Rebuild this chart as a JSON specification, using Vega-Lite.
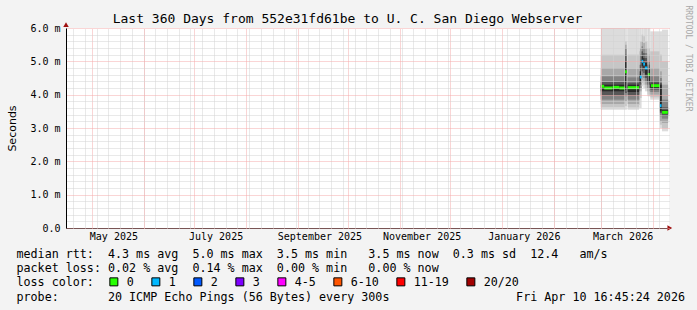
{
  "$schema": "https://vega.github.io/schema/vega-lite/v6.json",
  "width": 603,
  "height": 200,
  "autosize": {"type": "none"},
  "padding": {"left": 66, "top": 28, "right": 28, "bottom": 82},
  "background": "#f3f3f3",
  "config": {
    "view": {"fill": "white", "stroke": null},
    "font": "DejaVu Sans Mono"
  },
  "title": {
    "text": "Last 360 Days from 552e31fd61be to U. C. San Diego Webserver",
    "font": "DejaVu Sans Mono",
    "fontSize": 13,
    "fontWeight": "normal",
    "color": "black",
    "anchor": "middle",
    "frame": "group",
    "dx": -20,
    "dy": 35,
    "offset": 4,
    "baseline": "alphabetic"
  },
  "datasets": {
    "smoke": [
      {"t0": "2026-03-01T00:00:00Z", "t1": "2026-03-15T12:00:00Z", "lvl": 1, "lo": 3.55, "hi": 6.0},
      {"t0": "2026-03-01T00:00:00Z", "t1": "2026-03-15T12:00:00Z", "lvl": 2, "lo": 3.62, "hi": 5.2},
      {"t0": "2026-03-01T00:00:00Z", "t1": "2026-03-15T12:00:00Z", "lvl": 3, "lo": 3.72, "hi": 4.8},
      {"t0": "2026-03-01T00:00:00Z", "t1": "2026-03-15T12:00:00Z", "lvl": 4, "lo": 3.85, "hi": 4.55},
      {"t0": "2026-03-01T00:00:00Z", "t1": "2026-03-15T12:00:00Z", "lvl": 5, "lo": 3.98, "hi": 4.38},
      {"t0": "2026-03-01T00:00:00Z", "t1": "2026-03-15T12:00:00Z", "lvl": 6, "lo": 4.1, "hi": 4.3},
      {"t0": "2026-03-15T12:00:00Z", "t1": "2026-03-16T12:00:00Z", "lvl": 1, "lo": 3.55, "hi": 6.0},
      {"t0": "2026-03-15T12:00:00Z", "t1": "2026-03-16T12:00:00Z", "lvl": 2, "lo": 3.65, "hi": 5.6},
      {"t0": "2026-03-15T12:00:00Z", "t1": "2026-03-16T12:00:00Z", "lvl": 3, "lo": 3.8, "hi": 5.5},
      {"t0": "2026-03-15T12:00:00Z", "t1": "2026-03-16T12:00:00Z", "lvl": 4, "lo": 3.95, "hi": 5.4},
      {"t0": "2026-03-15T12:00:00Z", "t1": "2026-03-16T12:00:00Z", "lvl": 5, "lo": 4.05, "hi": 5.2},
      {"t0": "2026-03-15T12:00:00Z", "t1": "2026-03-16T12:00:00Z", "lvl": 6, "lo": 4.15, "hi": 5.0},
      {"t0": "2026-03-16T12:00:00Z", "t1": "2026-03-17T00:00:00Z", "lvl": 1, "lo": 4.1, "hi": 6.0},
      {"t0": "2026-03-16T12:00:00Z", "t1": "2026-03-17T00:00:00Z", "lvl": 2, "lo": 4.15, "hi": 5.0},
      {"t0": "2026-03-16T12:00:00Z", "t1": "2026-03-17T00:00:00Z", "lvl": 3, "lo": 4.18, "hi": 4.6},
      {"t0": "2026-03-17T00:00:00Z", "t1": "2026-03-23T20:00:00Z", "lvl": 1, "lo": 3.55, "hi": 6.0},
      {"t0": "2026-03-17T00:00:00Z", "t1": "2026-03-23T20:00:00Z", "lvl": 2, "lo": 3.62, "hi": 5.2},
      {"t0": "2026-03-17T00:00:00Z", "t1": "2026-03-23T20:00:00Z", "lvl": 3, "lo": 3.72, "hi": 4.78},
      {"t0": "2026-03-17T00:00:00Z", "t1": "2026-03-23T20:00:00Z", "lvl": 4, "lo": 3.85, "hi": 4.52},
      {"t0": "2026-03-17T00:00:00Z", "t1": "2026-03-23T20:00:00Z", "lvl": 5, "lo": 3.98, "hi": 4.36},
      {"t0": "2026-03-17T00:00:00Z", "t1": "2026-03-23T20:00:00Z", "lvl": 6, "lo": 4.08, "hi": 4.3},
      {"t0": "2026-03-23T20:00:00Z", "t1": "2026-03-24T08:00:00Z", "lvl": 1, "lo": 3.6, "hi": 6.0},
      {"t0": "2026-03-23T20:00:00Z", "t1": "2026-03-24T08:00:00Z", "lvl": 2, "lo": 3.7, "hi": 5.3},
      {"t0": "2026-03-23T20:00:00Z", "t1": "2026-03-24T08:00:00Z", "lvl": 3, "lo": 3.85, "hi": 4.9},
      {"t0": "2026-03-23T20:00:00Z", "t1": "2026-03-24T08:00:00Z", "lvl": 4, "lo": 4.0, "hi": 4.7},
      {"t0": "2026-03-23T20:00:00Z", "t1": "2026-03-24T08:00:00Z", "lvl": 5, "lo": 4.1, "hi": 4.6},
      {"t0": "2026-03-23T20:00:00Z", "t1": "2026-03-24T08:00:00Z", "lvl": 6, "lo": 4.18, "hi": 4.55},
      {"t0": "2026-03-24T08:00:00Z", "t1": "2026-03-25T08:00:00Z", "lvl": 1, "lo": 3.6, "hi": 6.0},
      {"t0": "2026-03-24T08:00:00Z", "t1": "2026-03-25T08:00:00Z", "lvl": 2, "lo": 3.9, "hi": 5.6},
      {"t0": "2026-03-24T08:00:00Z", "t1": "2026-03-25T08:00:00Z", "lvl": 3, "lo": 4.1, "hi": 5.4},
      {"t0": "2026-03-24T08:00:00Z", "t1": "2026-03-25T08:00:00Z", "lvl": 4, "lo": 4.2, "hi": 5.2},
      {"t0": "2026-03-24T08:00:00Z", "t1": "2026-03-25T08:00:00Z", "lvl": 5, "lo": 4.3, "hi": 4.9},
      {"t0": "2026-03-24T08:00:00Z", "t1": "2026-03-25T08:00:00Z", "lvl": 6, "lo": 4.4, "hi": 4.7},
      {"t0": "2026-03-25T08:00:00Z", "t1": "2026-03-26T08:00:00Z", "lvl": 1, "lo": 4.25, "hi": 6.0},
      {"t0": "2026-03-25T08:00:00Z", "t1": "2026-03-26T08:00:00Z", "lvl": 2, "lo": 4.35, "hi": 5.8},
      {"t0": "2026-03-25T08:00:00Z", "t1": "2026-03-26T08:00:00Z", "lvl": 3, "lo": 4.45, "hi": 5.6},
      {"t0": "2026-03-25T08:00:00Z", "t1": "2026-03-26T08:00:00Z", "lvl": 4, "lo": 4.55, "hi": 5.45},
      {"t0": "2026-03-25T08:00:00Z", "t1": "2026-03-26T08:00:00Z", "lvl": 5, "lo": 4.7, "hi": 5.3},
      {"t0": "2026-03-25T08:00:00Z", "t1": "2026-03-26T08:00:00Z", "lvl": 6, "lo": 4.85, "hi": 5.15},
      {"t0": "2026-03-26T08:00:00Z", "t1": "2026-03-27T08:00:00Z", "lvl": 1, "lo": 4.2, "hi": 6.0},
      {"t0": "2026-03-26T08:00:00Z", "t1": "2026-03-27T08:00:00Z", "lvl": 2, "lo": 4.3, "hi": 5.75},
      {"t0": "2026-03-26T08:00:00Z", "t1": "2026-03-27T08:00:00Z", "lvl": 3, "lo": 4.4, "hi": 5.55},
      {"t0": "2026-03-26T08:00:00Z", "t1": "2026-03-27T08:00:00Z", "lvl": 4, "lo": 4.5, "hi": 5.4},
      {"t0": "2026-03-26T08:00:00Z", "t1": "2026-03-27T08:00:00Z", "lvl": 5, "lo": 4.65, "hi": 5.25},
      {"t0": "2026-03-26T08:00:00Z", "t1": "2026-03-27T08:00:00Z", "lvl": 6, "lo": 4.8, "hi": 5.1},
      {"t0": "2026-03-27T08:00:00Z", "t1": "2026-03-28T20:00:00Z", "lvl": 1, "lo": 4.1, "hi": 6.0},
      {"t0": "2026-03-27T08:00:00Z", "t1": "2026-03-28T20:00:00Z", "lvl": 2, "lo": 4.2, "hi": 5.6},
      {"t0": "2026-03-27T08:00:00Z", "t1": "2026-03-28T20:00:00Z", "lvl": 3, "lo": 4.3, "hi": 5.4},
      {"t0": "2026-03-27T08:00:00Z", "t1": "2026-03-28T20:00:00Z", "lvl": 4, "lo": 4.4, "hi": 5.25},
      {"t0": "2026-03-27T08:00:00Z", "t1": "2026-03-28T20:00:00Z", "lvl": 5, "lo": 4.5, "hi": 5.1},
      {"t0": "2026-03-27T08:00:00Z", "t1": "2026-03-28T20:00:00Z", "lvl": 6, "lo": 4.6, "hi": 4.95},
      {"t0": "2026-03-28T20:00:00Z", "t1": "2026-03-30T12:00:00Z", "lvl": 1, "lo": 3.95, "hi": 6.0},
      {"t0": "2026-03-28T20:00:00Z", "t1": "2026-03-30T12:00:00Z", "lvl": 2, "lo": 4.0, "hi": 5.4},
      {"t0": "2026-03-28T20:00:00Z", "t1": "2026-03-30T12:00:00Z", "lvl": 3, "lo": 4.1, "hi": 5.2},
      {"t0": "2026-03-28T20:00:00Z", "t1": "2026-03-30T12:00:00Z", "lvl": 4, "lo": 4.2, "hi": 5.0},
      {"t0": "2026-03-28T20:00:00Z", "t1": "2026-03-30T12:00:00Z", "lvl": 5, "lo": 4.3, "hi": 4.9},
      {"t0": "2026-03-28T20:00:00Z", "t1": "2026-03-30T12:00:00Z", "lvl": 6, "lo": 4.4, "hi": 4.75},
      {"t0": "2026-03-30T12:00:00Z", "t1": "2026-04-05T06:00:00Z", "lvl": 1, "lo": 3.85, "hi": 5.9},
      {"t0": "2026-03-30T12:00:00Z", "t1": "2026-04-05T06:00:00Z", "lvl": 2, "lo": 3.92, "hi": 5.3},
      {"t0": "2026-03-30T12:00:00Z", "t1": "2026-04-05T06:00:00Z", "lvl": 3, "lo": 4.0, "hi": 4.8},
      {"t0": "2026-03-30T12:00:00Z", "t1": "2026-04-05T06:00:00Z", "lvl": 4, "lo": 4.08, "hi": 4.55},
      {"t0": "2026-03-30T12:00:00Z", "t1": "2026-04-05T06:00:00Z", "lvl": 5, "lo": 4.15, "hi": 4.4},
      {"t0": "2026-03-30T12:00:00Z", "t1": "2026-04-05T06:00:00Z", "lvl": 6, "lo": 4.2, "hi": 4.33},
      {"t0": "2026-04-05T06:00:00Z", "t1": "2026-04-06T12:00:00Z", "lvl": 1, "lo": 3.0, "hi": 5.9},
      {"t0": "2026-04-05T06:00:00Z", "t1": "2026-04-06T12:00:00Z", "lvl": 2, "lo": 3.1, "hi": 5.2},
      {"t0": "2026-04-05T06:00:00Z", "t1": "2026-04-06T12:00:00Z", "lvl": 3, "lo": 3.2, "hi": 4.7},
      {"t0": "2026-04-05T06:00:00Z", "t1": "2026-04-06T12:00:00Z", "lvl": 4, "lo": 3.35, "hi": 4.5},
      {"t0": "2026-04-05T06:00:00Z", "t1": "2026-04-06T12:00:00Z", "lvl": 5, "lo": 3.45, "hi": 4.35},
      {"t0": "2026-04-05T06:00:00Z", "t1": "2026-04-06T12:00:00Z", "lvl": 6, "lo": 3.5, "hi": 4.3},
      {"t0": "2026-04-06T12:00:00Z", "t1": "2026-04-10T04:00:00Z", "lvl": 1, "lo": 2.9, "hi": 5.95},
      {"t0": "2026-04-06T12:00:00Z", "t1": "2026-04-10T04:00:00Z", "lvl": 2, "lo": 3.0, "hi": 5.0},
      {"t0": "2026-04-06T12:00:00Z", "t1": "2026-04-10T04:00:00Z", "lvl": 3, "lo": 3.15, "hi": 4.3},
      {"t0": "2026-04-06T12:00:00Z", "t1": "2026-04-10T04:00:00Z", "lvl": 4, "lo": 3.28, "hi": 3.85},
      {"t0": "2026-04-06T12:00:00Z", "t1": "2026-04-10T04:00:00Z", "lvl": 5, "lo": 3.36, "hi": 3.62},
      {"t0": "2026-04-06T12:00:00Z", "t1": "2026-04-10T04:00:00Z", "lvl": 6, "lo": 3.42, "hi": 3.54}
    ],
    "median": [
      {"t0": "2026-03-01T00:00:00Z", "t1": "2026-03-03T00:00:00Z", "m": 4.25, "loss": "0"},
      {"t0": "2026-03-03T00:00:00Z", "t1": "2026-03-08T00:00:00Z", "m": 4.2, "loss": "0"},
      {"t0": "2026-03-08T00:00:00Z", "t1": "2026-03-12T00:00:00Z", "m": 4.22, "loss": "0"},
      {"t0": "2026-03-12T00:00:00Z", "t1": "2026-03-15T12:00:00Z", "m": 4.2, "loss": "0"},
      {"t0": "2026-03-15T12:00:00Z", "t1": "2026-03-16T12:00:00Z", "m": 4.69, "loss": "0"},
      {"t0": "2026-03-17T00:00:00Z", "t1": "2026-03-23T20:00:00Z", "m": 4.21, "loss": "0"},
      {"t0": "2026-03-24T08:00:00Z", "t1": "2026-03-25T08:00:00Z", "m": 4.53, "loss": "1"},
      {"t0": "2026-03-25T08:00:00Z", "t1": "2026-03-26T08:00:00Z", "m": 5.0, "loss": "1"},
      {"t0": "2026-03-26T08:00:00Z", "t1": "2026-03-27T08:00:00Z", "m": 4.92, "loss": "1"},
      {"t0": "2026-03-27T08:00:00Z", "t1": "2026-03-28T20:00:00Z", "m": 4.8, "loss": "1"},
      {"t0": "2026-03-29T00:00:00Z", "t1": "2026-03-30T06:00:00Z", "m": 4.6, "loss": "0"},
      {"t0": "2026-03-31T00:00:00Z", "t1": "2026-04-05T06:00:00Z", "m": 4.27, "loss": "0"},
      {"t0": "2026-04-05T06:00:00Z", "t1": "2026-04-06T06:00:00Z", "m": 3.67, "loss": "1"},
      {"t0": "2026-04-06T14:00:00Z", "t1": "2026-04-10T00:00:00Z", "m": 3.47, "loss": "0"}
    ],
    "arrows": [
      {"t": "2026-04-11T04:00:00Z", "v": 0, "dir": "right"},
      {"t": "2025-04-15T16:45:00Z", "v": 6.1, "dir": "up"}
    ]
  },
  "layer": [
    {
      "data": {"name": "smoke"},
      "mark": {"type": "rect", "strokeWidth": 0},
      "encoding": {
        "x": {
          "field": "t0", "type": "temporal",
          "scale": {"type": "utc", "domain": ["2025-04-15T16:45:00Z", "2026-04-10T16:45:00Z"]},
          "axis": {
            "orient": "top", "tickCount": {"interval": "week", "step": 1},
            "grid": true, "gridColor": "#d2d2d2", "gridDash": [1, 1], "gridOpacity": 1, "gridWidth": 1,
            "labels": false, "ticks": false, "domain": false, "title": null, "zindex": 1
          }
        },
        "x2": {"field": "t1"},
        "y": {
          "field": "lo", "type": "quantitative",
          "scale": {"domain": [0, 6], "nice": false, "zero": true},
          "axis": {
            "orient": "right",
            "values": [0.2, 0.4, 0.6, 0.8, 1.2, 1.4, 1.6, 1.8, 2.2, 2.4, 2.6, 2.8, 3.2, 3.4, 3.6, 3.8, 4.2, 4.4, 4.6, 4.8, 5.2, 5.4, 5.6, 5.8],
            "grid": true, "gridColor": "#d2d2d2", "gridDash": [1, 1], "gridOpacity": 1,
            "labels": false, "ticks": false, "domain": false, "zindex": 1,
            "title": "RRDTOOL / TOBI OETIKER",
            "titleAngle": 90, "titleX": 18, "titleY": -23, "titleAlign": "left", "titleBaseline": "middle",
            "titleFont": "DejaVu Sans Mono", "titleFontSize": 8, "titleFontWeight": "normal", "titleColor": "#a8a8a8"
          }
        },
        "y2": {"field": "hi"},
        "fill": {
          "field": "lvl", "type": "ordinal",
          "scale": {"domain": [1, 2, 3, 4, 5, 6], "range": ["#dcdcdc", "#c6c6c6", "#a8a8a8", "#838383", "#575757", "#2a2a2a"]},
          "legend": null
        }
      }
    },
    {
      "data": {"name": "median"},
      "mark": {"type": "rect", "height": 3},
      "encoding": {
        "x": {
          "field": "t0", "type": "temporal",
          "scale": {"type": "utc", "domain": ["2025-04-15T16:45:00Z", "2026-04-10T16:45:00Z"]},
          "axis": {
            "orient": "bottom",
            "values": ["2025-05-14T00:00:00Z", "2025-07-14T00:00:00Z", "2025-09-14T00:00:00Z", "2025-11-14T00:00:00Z", "2026-01-14T00:00:00Z", "2026-03-14T00:00:00Z"],
            "format": "%B %Y",
            "grid": false, "ticks": false, "tickSize": 0, "domain": true, "domainColor": "black", "domainWidth": 1,
            "labelFont": "DejaVu Sans Mono", "labelFontSize": 10, "labelColor": "black", "labelPadding": 3,
            "title": [
              "median rtt:\u00a0\u00a04.3 ms avg\u00a0\u00a05.0 ms max\u00a0\u00a03.5 ms min\u00a0\u00a0\u00a03.5 ms now\u00a0\u00a00.3 ms sd\u00a0\u00a012.4\u00a0\u00a0\u00a0am/s",
              "packet loss: 0.02 % avg\u00a0\u00a00.14 % max\u00a0\u00a00.00 % min\u00a0\u00a0\u00a00.00 % now",
              "loss color:",
              "probe:\u00a0\u00a0\u00a0\u00a0\u00a0\u00a0\u00a020 ICMP Echo Pings (56 Bytes) every 300s\u00a0\u00a0\u00a0\u00a0\u00a0\u00a0\u00a0\u00a0\u00a0\u00a0\u00a0\u00a0\u00a0\u00a0\u00a0\u00a0\u00a0\u00a0Fri Apr 10 16:45:24 2026"
            ],
            "titleX": -50, "titleY": 29.5, "titleAlign": "left", "titleAnchor": "start", "titleBaseline": "alphabetic",
            "titleLineHeight": 14.2, "titleFont": "DejaVu Sans Mono", "titleFontSize": 11.7, "titleFontWeight": "normal", "titleColor": "black", "titleAngle": 0
          }
        },
        "x2": {"field": "t1"},
        "y": {
          "field": "m", "type": "quantitative",
          "scale": {"domain": [0, 6], "nice": false, "zero": true},
          "axis": {
            "orient": "left",
            "values": [0, 1, 2, 3, 4, 5, 6],
            "labelExpr": "datum.value == 0 ? '0.0' : format(datum.value, '.1f') + ' m'",
            "grid": true, "gridColor": "#f4aaaa", "gridDash": [1, 1], "gridOpacity": 1,
            "ticks": false, "tickSize": 0, "domain": true, "domainColor": "black", "domainWidth": 1,
            "labelFont": "DejaVu Sans Mono", "labelFontSize": 10, "labelColor": "black", "labelPadding": 6, "zindex": 1,
            "title": "Seconds", "titleFont": "DejaVu Sans", "titleFontSize": 11, "titleFontWeight": "normal", "titleColor": "black",
            "titleAngle": -90, "titleX": -54, "titleY": 100, "titleAlign": "center", "titleBaseline": "middle"
          }
        },
        "color": {
          "field": "loss", "type": "nominal",
          "scale": {
            "domain": ["0", "1", "2", "3", "4-5", "6-10", "11-19", "20/20"],
            "range": ["#26ff00", "#00b8ff", "#0059ff", "#7e00ff", "#ff00ff", "#ff5500", "#ff0000", "#a10000"]
          },
          "legend": {
            "orient": "none", "legendX": 42, "legendY": 248, "direction": "horizontal", "columns": 8,
            "gridAlign": "none", "columnPadding": 15, "title": null, "padding": 0,
            "symbolType": "square", "symbolSize": 64, "symbolStrokeColor": "black", "symbolStrokeWidth": 1, "symbolOpacity": 1,
            "labelFont": "DejaVu Sans Mono", "labelFontSize": 11.7, "labelColor": "black", "labelOffset": 7
          }
        }
      }
    },
    {
      "data": {"name": "arrows"},
      "mark": {"type": "point", "filled": true, "size": 30, "opacity": 1, "color": "#a01010"},
      "encoding": {
        "x": {
          "field": "t", "type": "temporal",
          "scale": {"type": "utc", "domain": ["2025-04-15T16:45:00Z", "2026-04-10T16:45:00Z"]},
          "axis": {
            "orient": "top", "tickCount": {"interval": "month", "step": 1},
            "grid": true, "gridColor": "#f4aaaa", "gridDash": [1, 1], "gridOpacity": 1,
            "labels": false, "ticks": false, "domain": false, "title": null, "zindex": 1
          }
        },
        "y": {"field": "v", "type": "quantitative", "scale": {"domain": [0, 6], "nice": false, "zero": true}, "axis": null},
        "shape": {
          "field": "dir", "type": "nominal",
          "scale": {"domain": ["right", "up"], "range": ["triangle-right", "triangle-up"]},
          "legend": null
        }
      }
    }
  ],
  "resolve": {"axis": {"x": "independent", "y": "independent"}}
}
